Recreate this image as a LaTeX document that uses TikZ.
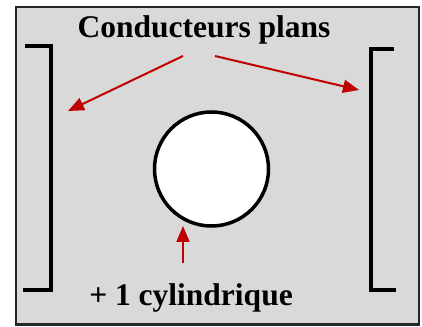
\documentclass[tikz,border=0pt]{standalone}
\usepackage{fontspec}
\setmainfont{Liberation Serif}
\usetikzlibrary{arrows.meta}
\definecolor{bggray}{HTML}{D9D9D9}
\definecolor{arrred}{HTML}{C00000}
\tikzset{
  plate/.style={line width=4pt, line cap=butt, line join=miter},
  redarrow/.style={draw=arrred, line width=2pt, -{Triangle[length=16pt,width=13pt]}},
  lbl/.style={font=\bfseries\fontsize{31.5}{36}\selectfont, anchor=base, inner sep=0pt}
}
\begin{document}
\begin{tikzpicture}[x=1pt,y=1pt]
\useasboundingbox (0,0) rectangle (422,326);
\draw[fill=bggray, draw=black!85, line width=2.5pt] (16,1.5) rectangle (419,319);
% plates
\draw[plate] (25,280) -- (51,280) -- (51,36) -- (23,36);
\draw[plate] (394,277) -- (371,277) -- (371,36) -- (396,36);
% cylinder
\node[circle, draw, fill=white, line width=3.5pt, minimum size=114pt, inner sep=0pt] (cyl) at (211.5,157) {};
% labels
\node[lbl] (top) at (204,288) {Conducteurs plans};
\node[lbl] (bot) at (191,20) {+ 1 cylindrique};
% arrow ends
\coordinate (s1) at (183,270);
\coordinate (t1) at (68,215);
\coordinate (s2) at (215,270);
\coordinate (t2) at (359,236);
\coordinate (s3) at (183,63);
\coordinate (t3) at (183,100);
\draw[redarrow] (s1) -- (t1);
\draw[redarrow] (s2) -- (t2);
\draw[redarrow] (s3) -- (t3);
\end{tikzpicture}
\end{document}
